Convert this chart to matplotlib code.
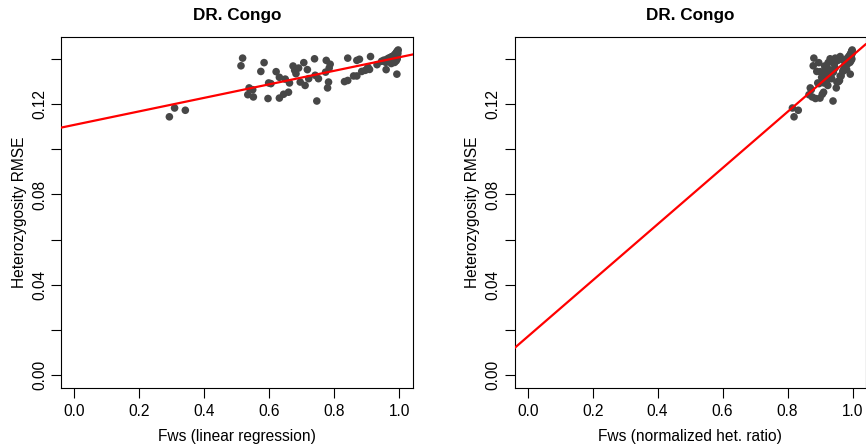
import numpy as np
import matplotlib
matplotlib.use("Agg")
import matplotlib.pyplot as plt

plt.rcParams['font.family'] = ['Liberation Sans', 'DejaVu Sans']

# Heterozygosity RMSE per sample (shared by both panels)
rmse = [
    0.1144, 0.1183, 0.1173, 0.1404, 0.1370, 0.1384, 0.1345, 0.1272, 0.1264, 0.1242,
    0.1232, 0.1294, 0.1291, 0.1225, 0.1344, 0.1319, 0.1227, 0.1244, 0.1311, 0.1253,
    0.1294, 0.1369, 0.1350, 0.1335, 0.1360, 0.1298, 0.1384, 0.1283, 0.1353, 0.1313,
    0.1401, 0.1328, 0.1214, 0.1313, 0.1394, 0.1377, 0.1360, 0.1342, 0.1298, 0.1272,
    0.1300, 0.1305, 0.1325, 0.1325, 0.1404, 0.1394, 0.1399, 0.1411, 0.1345, 0.1350,
    0.1364, 0.1354, 0.1375, 0.1353, 0.1333,
    0.1390, 0.1395, 0.1385, 0.1400, 0.1392, 0.1405, 0.1398, 0.1410, 0.1388, 0.1412,
    0.1402, 0.1418, 0.1395, 0.1422, 0.1408, 0.1428, 0.1415, 0.1432, 0.1400, 0.1436,
    0.1425, 0.1440, 0.1380, 0.1385, 0.1392,
]

# Fws estimated by linear regression
fws_lr = [
    0.293, 0.309, 0.342, 0.518, 0.513, 0.584, 0.574, 0.538, 0.549, 0.534,
    0.551, 0.598, 0.605, 0.596, 0.621, 0.631, 0.631, 0.644, 0.649, 0.659,
    0.662, 0.673, 0.678, 0.682, 0.690, 0.695, 0.706, 0.710, 0.717, 0.721,
    0.739, 0.741, 0.746, 0.751, 0.775, 0.787, 0.784, 0.773, 0.782, 0.779,
    0.831, 0.841, 0.859, 0.869, 0.841, 0.869, 0.877, 0.911, 0.884, 0.895,
    0.903, 0.908, 0.931, 0.959, 0.992,
    0.945, 0.952, 0.958, 0.962, 0.965, 0.968, 0.972, 0.975, 0.977, 0.980,
    0.982, 0.984, 0.985, 0.987, 0.988, 0.990, 0.991, 0.992, 0.993, 0.994,
    0.995, 0.996, 0.975, 0.985, 0.990,
]

# Fws estimated by normalized heterozygosity ratio
fws_nhr = [
    0.820, 0.815, 0.833, 0.881, 0.879, 0.896, 0.890, 0.870, 0.873, 0.866,
    0.876, 0.893, 0.897, 0.886, 0.901, 0.905, 0.900, 0.907, 0.909, 0.911,
    0.912, 0.914, 0.918, 0.917, 0.921, 0.920, 0.925, 0.924, 0.928, 0.926,
    0.931, 0.933, 0.940, 0.936, 0.940, 0.944, 0.946, 0.941, 0.952, 0.950,
    0.957, 0.960, 0.962, 0.965, 0.947, 0.955, 0.958, 0.962, 0.970, 0.972,
    0.975, 0.974, 0.982, 0.982, 0.993,
    0.975, 0.978, 0.980, 0.982, 0.984, 0.985, 0.986, 0.988, 0.989, 0.990,
    0.991, 0.992, 0.993, 0.994, 0.995, 0.996, 0.996, 0.997, 0.998, 0.998,
    0.999, 0.999, 0.986, 0.992, 0.995,
]

# Fitted lines (intercept, slope)
fit_lr = (0.1108, 0.0300)
fit_nhr = (0.0170, 0.1245)

title = "DR. Congo"
ylabel = "Heterozygosity RMSE"
xlabels = ["Fws (linear regression)", "Fws (normalized het. ratio)"]
xticks = [0.0, 0.2, 0.4, 0.6, 0.8, 1.0]
yticks = [0.00, 0.02, 0.04, 0.06, 0.08, 0.10, 0.12, 0.14]
ytick_labels = ["0.00", "", "0.04", "", "0.08", "", "0.12", ""]

W, H = 866, 447
fig = plt.figure(figsize=(W / 100, H / 100), dpi=100)

def px_axes(x0, y0, x1, y1):
    return fig.add_axes([x0 / W, 1 - y1 / H, (x1 - x0) / W, (y1 - y0) / H])

panels = [
    (px_axes(61, 37, 412.5, 388), fws_lr, fit_lr, xlabels[0]),
    (px_axes(514.7, 37, 865.5, 388), fws_nhr, fit_nhr, xlabels[1]),
]

fs = 11.2
ymin, ymax = 0.0, 0.144
for ax, xs, (b0, b1), xl in panels:
    ax.scatter(xs, rmse, s=30, color="#474747", edgecolors="none", zorder=2)
    ax.set_xlim(-0.04, 1.04)
    ax.set_ylim(ymin - 0.04 * (ymax - ymin), ymax + 0.04 * (ymax - ymin))
    xx = np.array(ax.get_xlim())
    ax.plot(xx, b0 + b1 * xx, color="#FF0000", lw=1.6, zorder=3)
    ax.set_xticks(xticks)
    ax.set_xticklabels([f"{t:.1f}" for t in xticks], fontsize=fs)
    ax.set_yticks(yticks)
    ax.set_yticklabels(ytick_labels, rotation=90, va="center", fontsize=fs)
    ax.tick_params(axis="both", direction="out", length=7.5, width=0.8, color="black")
    ax.tick_params(axis="x", pad=4)
    ax.tick_params(axis="y", pad=2.5)
    for sp in ax.spines.values():
        sp.set_linewidth(0.8)
    ax.set_title(title, fontsize=12.3, fontweight="bold", pad=12)
    ax.set_xlabel(xl, fontsize=fs, labelpad=7)
    ax.set_ylabel(ylabel, fontsize=fs, labelpad=4)

fig.savefig("out.png", dpi=100)
